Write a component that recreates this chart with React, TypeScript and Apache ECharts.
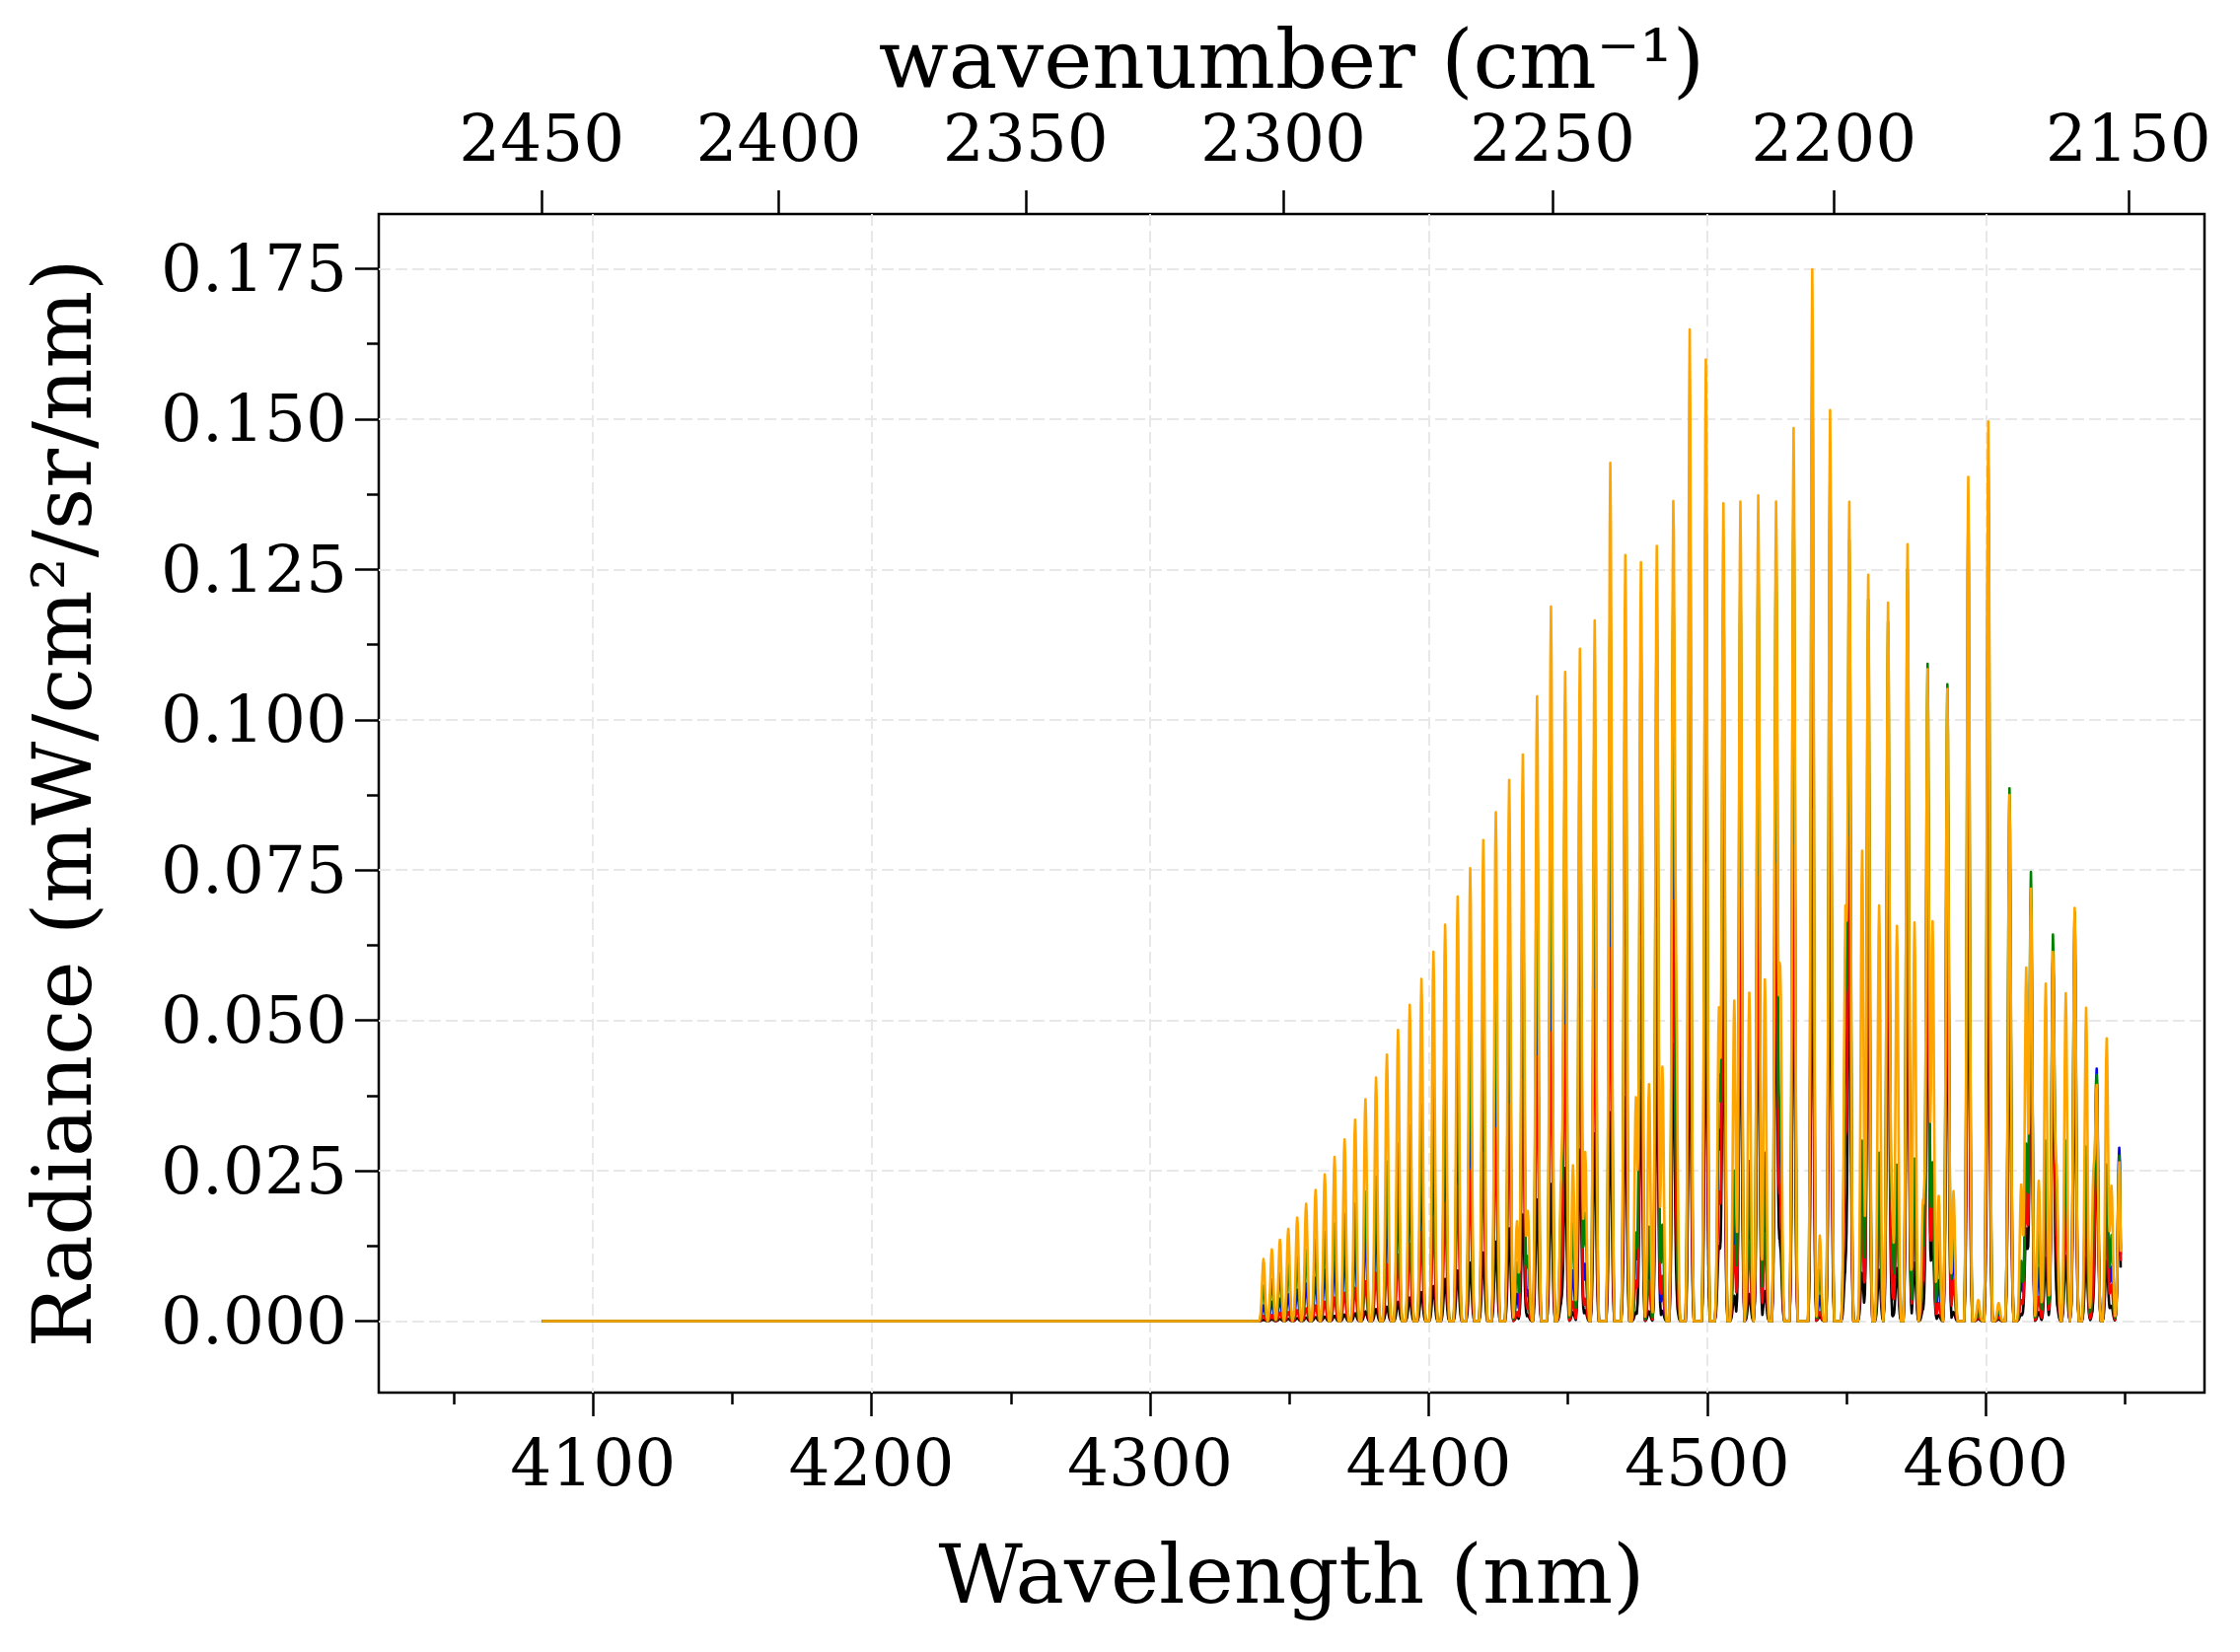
import React, { useEffect, useRef } from "react";
import * as echarts from "echarts";

// Wavelength span covered by the computed spectra (nm)
const START_WL = 4081.6;
const END_WL = 4648.4;

// Centres of the strong band lines (nm)
const mainWl = [
  4340.7, 4343.7, 4346.6, 4349.6, 4352.8, 4356.0, 4359.4, 4362.7, 4366.2, 4369.8,
  4373.6, 4377.3, 4381.1, 4385.0, 4389.0, 4393.2, 4397.4, 4401.7, 4405.9, 4410.4,
  4414.9, 4419.6, 4424.1, 4428.9, 4433.8, 4438.9, 4443.9, 4449.0, 4454.3, 4459.6,
  4465.2, 4470.6, 4476.2, 4481.9, 4487.8, 4493.7, 4499.5, 4505.8, 4511.9, 4518.3,
  4524.7, 4531.0, 4537.7, 4544.1, 4551.0, 4557.8, 4564.9, 4571.9, 4579.1, 4586.2,
  4593.7, 4600.9, 4608.5, 4616.2, 4624.1, 4631.9, 4639.8, 4647.9,
];

// Peak radiance of the strong lines for each case (mW/cm²/sr/nm)
const blackMain = [
  0.0002, 0.0003, 0.0004, 0.0004, 0.0005, 0.0006, 0.0007, 0.0008, 0.0009, 0.0011,
  0.0013, 0.0016, 0.0020, 0.0024, 0.0032, 0.0039, 0.0048, 0.0058, 0.0070, 0.0084,
  0.0097, 0.0114, 0.0132, 0.0154, 0.0177, 0.0202, 0.0228, 0.0254, 0.0285, 0.0312,
  0.0347, 0.0372, 0.0400, 0.0430, 0.0458, 0.0498, 0.0521, 0.0537, 0.0557, 0.0578,
  0.0597, 0.0621, 0.0640, 0.0649, 0.0650, 0.0643, 0.0630, 0.0620, 0.0580, 0.0560,
  0.0643, 0.0626, 0.0540, 0.0480, 0.0440, 0.0450, 0.0300, 0.0210,
];
const blueMain = [
  0.0026, 0.0032, 0.0037, 0.0044, 0.0052, 0.0062, 0.0072, 0.0085, 0.0099, 0.0115,
  0.0132, 0.0154, 0.0173, 0.0190, 0.0208, 0.0230, 0.0255, 0.0285, 0.0320, 0.0360,
  0.0400, 0.0440, 0.0480, 0.0530, 0.0580, 0.0640, 0.0700, 0.0700, 0.0740, 0.0780,
  0.0900, 0.0860, 0.0870, 0.0900, 0.0930, 0.1050, 0.1050, 0.0980, 0.1000, 0.1020,
  0.1030, 0.1100, 0.1250, 0.1150, 0.1070, 0.1010, 0.0990, 0.1050, 0.0950, 0.0930,
  0.1150, 0.1200, 0.0800, 0.0690, 0.0600, 0.0640, 0.0413, 0.0288,
];
const redMain = [
  0.0009, 0.0010, 0.0014, 0.0015, 0.0018, 0.0021, 0.0026, 0.0032, 0.0039, 0.0047,
  0.0055, 0.0066, 0.0080, 0.0094, 0.0110, 0.0128, 0.0148, 0.0173, 0.0197, 0.0225,
  0.0250, 0.0280, 0.0320, 0.0360, 0.0400, 0.0440, 0.0480, 0.0490, 0.0520, 0.0550,
  0.0620, 0.0620, 0.0640, 0.0670, 0.0690, 0.0750, 0.0760, 0.0700, 0.0720, 0.0740,
  0.0760, 0.0790, 0.0850, 0.0830, 0.0800, 0.0770, 0.0760, 0.0780, 0.0700, 0.0680,
  0.0780, 0.0800, 0.0620, 0.0560, 0.0500, 0.0520, 0.0340, 0.0240,
];
const greenMain = [
  0.0059, 0.0069, 0.0080, 0.0094, 0.0107, 0.0118, 0.0135, 0.0148, 0.0162, 0.0178,
  0.0195, 0.0215, 0.0240, 0.0265, 0.0295, 0.0325, 0.0360, 0.0395, 0.0430, 0.0470,
  0.0510, 0.0560, 0.0620, 0.0690, 0.0760, 0.0850, 0.0950, 0.0930, 0.0970, 0.1020,
  0.1210, 0.1120, 0.1130, 0.1170, 0.1210, 0.1420, 0.1400, 0.1230, 0.1250, 0.1270,
  0.1280, 0.1380, 0.1590, 0.1420, 0.1290, 0.1200, 0.1160, 0.1250, 0.1093, 0.1059,
  0.1350, 0.1420, 0.0886, 0.0747, 0.0635, 0.0680, 0.0400, 0.0275,
];
const orangeMain = [
  0.0103, 0.0119, 0.0135, 0.0153, 0.0172, 0.0195, 0.0218, 0.0244, 0.0273, 0.0302,
  0.0335, 0.0369, 0.0405, 0.0443, 0.0484, 0.0526, 0.0569, 0.0614, 0.0659, 0.0706,
  0.0753, 0.0800, 0.0846, 0.0900, 0.0942, 0.1039, 0.1188, 0.1075, 0.1118, 0.1165,
  0.1427, 0.1274, 0.1262, 0.1289, 0.1320, 0.1649, 0.1599, 0.1360, 0.1363, 0.1373,
  0.1363, 0.1485, 0.1749, 0.1515, 0.1350, 0.1241, 0.1191, 0.1292, 0.1084, 0.1051,
  0.1404, 0.1496, 0.0875, 0.0719, 0.0605, 0.0687, 0.0380, 0.0264,
];

// Centres of the weaker interleaved lines (nm)
const hotWl = [
  4431.7, 4435.6, 4447.6, 4451.8, 4456.2, 4474.4, 4479.1, 4483.9, 4488.9, 4504.2,
  4509.7, 4515.1, 4520.7, 4526.2, 4540.4, 4549.6, 4555.6, 4561.7, 4566.3, 4568.1,
  4574.4, 4577.5, 4580.9, 4583.1, 4588.4, 4597.3, 4604.6, 4612.7, 4614.5, 4619.0,
  4621.5, 4625.4, 4628.7, 4636.0, 4638.6, 4643.4, 4645.1,
];

// Peak radiance of the weaker lines for each case (mW/cm²/sr/nm)
const blackHot = [
  0.0008, 0.0010, 0.0030, 0.0015, 0.0018, 0.0015, 0.0016, 0.0017, 0.0030, 0.0125,
  0.0042, 0.0045, 0.0050, 0.0125, 0.0008, 0.0085, 0.0080, 0.0085, 0.0010, 0.0088,
  0.0097, 0.0020, 0.0140, 0.0010, 0.0015, 0.0004, 0.0003, 0.0012, 0.0154, 0.0015,
  0.0105, 0.0030, 0.0108, 0.0105, 0.0020, 0.0100, 0.0025,
];
const blueHot = [
  0.0045, 0.0051, 0.0133, 0.0084, 0.0095, 0.0125, 0.0100, 0.0054, 0.0150, 0.0318,
  0.0180, 0.0190, 0.0200, 0.0281, 0.0042, 0.0413, 0.0220, 0.0225, 0.0114, 0.0220,
  0.0235, 0.0100, 0.0235, 0.0068, 0.0120, 0.0012, 0.0010, 0.0070, 0.0264, 0.0088,
  0.0260, 0.0154, 0.0250, 0.0240, 0.0120, 0.0220, 0.0090,
];
const redHot = [
  0.0015, 0.0026, 0.0075, 0.0032, 0.0037, 0.0067, 0.0067, 0.0075, 0.0100, 0.0215,
  0.0125, 0.0134, 0.0146, 0.0206, 0.0015, 0.0292, 0.0180, 0.0218, 0.0050, 0.0220,
  0.0220, 0.0070, 0.0194, 0.0030, 0.0068, 0.0008, 0.0006, 0.0035, 0.0218, 0.0040,
  0.0200, 0.0120, 0.0190, 0.0180, 0.0045, 0.0170, 0.0060,
];
const greenHot = [
  0.0097, 0.0108, 0.0200, 0.0163, 0.0180, 0.0147, 0.0157, 0.0160, 0.0200, 0.0410,
  0.0250, 0.0266, 0.0280, 0.0341, 0.0085, 0.0520, 0.0300, 0.0280, 0.0159, 0.0260,
  0.0270, 0.0131, 0.0264, 0.0134, 0.0183, 0.0020, 0.0018, 0.0100, 0.0295, 0.0157,
  0.0300, 0.0212, 0.0300, 0.0290, 0.0166, 0.0260, 0.0143,
];
const orangeHot = [
  0.0166, 0.0183, 0.0245, 0.0259, 0.0281, 0.0372, 0.0394, 0.0423, 0.0458, 0.0522,
  0.0533, 0.0546, 0.0568, 0.0590, 0.0142, 0.0666, 0.0782, 0.0691, 0.0192, 0.0657,
  0.0663, 0.0203, 0.0665, 0.0208, 0.0216, 0.0035, 0.0030, 0.0227, 0.0588, 0.0233,
  0.0561, 0.0238, 0.0545, 0.0521, 0.0228, 0.0470, 0.0225,
];

// Radiance at the last sample of each case, in drawing order
const endRadiance = [0.0089, 0.0110, 0.0100, 0.0120, 0.0115];

// Axis ticks
const X_TICKS = [4100, 4200, 4300, 4400, 4500, 4600];
const X_MINOR_TICKS = [4050, 4150, 4250, 4350, 4450, 4550, 4650];
const WAVENUMBER_TICKS = [2450, 2400, 2350, 2300, 2250, 2200, 2150];
const Y_TICKS = [0, 0.025, 0.05, 0.075, 0.1, 0.125, 0.15, 0.175];
const Y_MINOR_TICKS = [0.0125, 0.0375, 0.0625, 0.0875, 0.1125, 0.1375, 0.1625];

// Axis limits
const X_MIN = 4023.1;
const X_MAX = 4678.5;
const Y_MIN = -0.0119;
const Y_MAX = 0.1841;

// Bell-shaped line profile drawn around each line centre (offset in nm -> fraction of the peak)
const LINE_OFFSETS = [-1.5, -1.2, -1.0, -0.8, -0.6, -0.4, -0.2, 0, 0.2, 0.4, 0.6, 0.8, 1.0, 1.2, 1.5];
const LINE_SHAPE = [0, 0.056, 0.135, 0.278, 0.487, 0.726, 0.923, 1, 0.923, 0.726, 0.487, 0.278, 0.135, 0.056, 0];

const FONT = "'DejaVu Serif', serif";
const TICK_FONT_SIZE = 66;
const NAME_FONT_SIZE = 83;

function lineProfile(d: number): number {
  const n = LINE_OFFSETS.length;
  if (d <= LINE_OFFSETS[0] || d >= LINE_OFFSETS[n - 1]) return 0;
  for (let k = 1; k < n; k++) {
    if (d <= LINE_OFFSETS[k]) {
      const t = (d - LINE_OFFSETS[k - 1]) / (LINE_OFFSETS[k] - LINE_OFFSETS[k - 1]);
      return LINE_SHAPE[k - 1] + t * (LINE_SHAPE[k] - LINE_SHAPE[k - 1]);
    }
  }
  return 0;
}

function buildSpectrum(mainPeaks: number[], hotPeaks: number[], endValue: number): number[][] {
  const peaks: number[][] = [];
  mainWl.forEach((c, i) => peaks.push([c, mainPeaks[i]]));
  hotWl.forEach((c, i) => peaks.push([c, hotPeaks[i]]));
  const xs = new Set<number>();
  xs.add(START_WL);
  for (const [c] of peaks) {
    for (const o of LINE_OFFSETS) {
      const x = Math.round((c + o) * 1000) / 1000;
      if (x > START_WL && x < END_WL - 0.2) xs.add(x);
    }
  }
  const sorted = Array.from(xs).sort((a, b) => a - b);
  const pts = sorted.map((x) => [
    x,
    peaks.reduce((s, [c, h]) => s + h * lineProfile(x - c), 0),
  ]);
  pts.push([END_WL, endValue]);
  return pts;
}

const traces = [
  { key: "black", color: "#000000", main: blackMain, hot: blackHot },
  { key: "blue", color: "#0000ff", main: blueMain, hot: blueHot },
  { key: "red", color: "#ff0000", main: redMain, hot: redHot },
  { key: "green", color: "#008000", main: greenMain, hot: greenHot },
  { key: "orange", color: "#ffa500", main: orangeMain, hot: orangeHot },
];

const tickLine = { color: "#000", width: 2.5 };
const gridLine = { color: "#e8e8e8", width: 2, type: [12, 5] as number[] };
const tickText = { fontFamily: FONT, fontSize: TICK_FONT_SIZE, color: "#000" };
const nameText = { fontFamily: FONT, fontSize: NAME_FONT_SIZE, color: "#000" };

export default function App() {
  const ref = useRef<HTMLDivElement>(null);

  useEffect(() => {
    if (!ref.current) return;
    const chart = echarts.init(ref.current, null, { renderer: "svg" });

    const option: any = {
      animation: false,
      backgroundColor: "#ffffff",
      textStyle: { fontFamily: FONT },
      grid: {
        left: 384,
        top: 217,
        width: 1851,
        height: 1195,
        show: true,
        borderColor: "#000",
        borderWidth: 2.5,
        backgroundColor: "transparent",
        containLabel: false,
        outerBoundsMode: "none",
      },
      xAxis: [
        {
          type: "value",
          position: "bottom",
          min: X_MIN,
          max: X_MAX,
          axisLine: { show: false, onZero: false },
          axisTick: { show: true, inside: false, length: 24, customValues: X_TICKS, lineStyle: tickLine },
          axisLabel: {
            show: true,
            customValues: X_TICKS,
            margin: 38,
            ...tickText,
            formatter: (v: number) => String(Math.round(v)),
          },
          splitLine: { show: true, lineStyle: gridLine },
          name: "Wavelength (nm)",
          nameLocation: "middle",
          nameGap: 143,
          nameTextStyle: nameText,
        },
        {
          type: "value",
          position: "top",
          min: X_MIN,
          max: X_MAX,
          axisLine: { show: false, onZero: false },
          axisTick: {
            show: true,
            inside: false,
            length: 24,
            customValues: WAVENUMBER_TICKS.map((w) => 1e7 / w),
            lineStyle: tickLine,
          },
          axisLabel: {
            show: true,
            customValues: WAVENUMBER_TICKS.map((w) => 1e7 / w),
            margin: 44,
            ...tickText,
            formatter: (v: number) => String(Math.round(1e7 / v)),
          },
          splitLine: { show: false },
          name: "wavenumber (cm⁻¹)",
          nameLocation: "middle",
          nameGap: 106,
          nameTextStyle: nameText,
        },
        {
          type: "value",
          position: "bottom",
          min: X_MIN,
          max: X_MAX,
          axisLine: { show: false, onZero: false },
          axisTick: { show: true, inside: false, length: 12, customValues: X_MINOR_TICKS, lineStyle: tickLine },
          axisLabel: { show: false },
          splitLine: { show: false },
        },
      ],
      yAxis: [
        {
          type: "value",
          position: "left",
          min: Y_MIN,
          max: Y_MAX,
          axisLine: { show: false, onZero: false },
          axisTick: { show: true, inside: false, length: 24, customValues: Y_TICKS, lineStyle: tickLine },
          axisLabel: {
            show: true,
            customValues: Y_TICKS,
            margin: 32,
            ...tickText,
            formatter: (v: number) => v.toFixed(3),
          },
          splitLine: { show: true, lineStyle: gridLine },
          name: "Radiance (mW/cm²/sr/nm)",
          nameLocation: "middle",
          nameGap: 279,
          nameTextStyle: nameText,
        },
        {
          type: "value",
          position: "left",
          min: Y_MIN,
          max: Y_MAX,
          axisLine: { show: false, onZero: false },
          axisTick: { show: true, inside: false, length: 12, customValues: Y_MINOR_TICKS, lineStyle: tickLine },
          axisLabel: { show: false },
          splitLine: { show: false },
        },
      ],
      series: traces.map((t, i) => ({
        type: "line",
        name: t.key,
        xAxisIndex: 0,
        yAxisIndex: 0,
        data: buildSpectrum(t.main, t.hot, endRadiance[i]),
        showSymbol: false,
        symbol: "none",
        smooth: false,
        clip: true,
        lineStyle: { color: t.color, width: 2.6, join: "round", cap: "butt" },
        itemStyle: { color: t.color },
        emphasis: { disabled: true },
      })),
    };

    chart.setOption(option);
    return () => chart.dispose();
  }, []);

  return (
    <div
      ref={ref}
      style={{ position: "absolute", left: 0, top: 0, width: 2271, height: 1675, background: "#fff" }}
    />
  );
}
